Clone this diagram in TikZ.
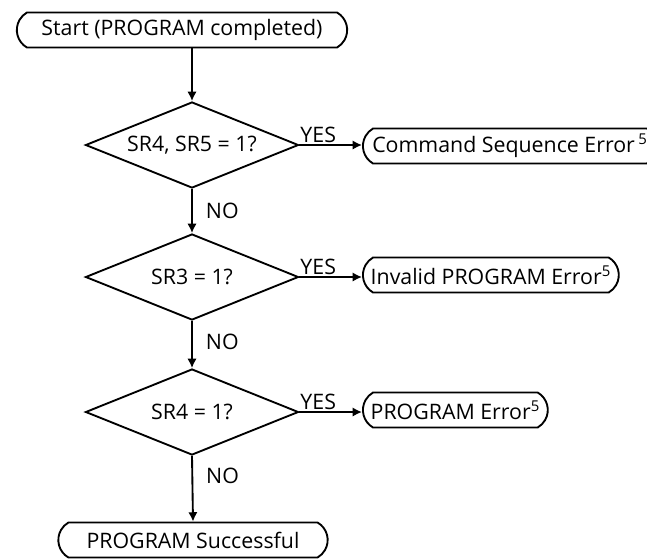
\documentclass[tikz,border=0pt]{standalone}
\usepackage{fontspec}
\setmainfont{Open Sans}
\usetikzlibrary{shapes.geometric,shapes.misc,arrows.meta}

\tikzset{every picture/.style={line width=1.4pt}}
\tikzset{
  term/.style={draw, rounded rectangle, rounded rectangle arc length=120, minimum height=26.25pt, inner xsep=4pt, font=\fontsize{16}{19}\selectfont},
  decision/.style={draw, diamond, aspect=2.48, inner sep=0pt, minimum width=159.75pt, minimum height=64.5pt, font=\fontsize{16}{19}\selectfont},
  flow/.style={-{Latex[length=7pt,width=7pt]}},
  answer/.style={inner sep=0.75pt, font=\fontsize{16}{19}\selectfont}
}

\begin{document}
\begin{tikzpicture}[x=0.75pt,y=0.75pt,yscale=-1,xscale=1]
    \useasboundingbox (0,0) rectangle (647,558);

    %Terminal: start
    \node[term, minimum width=255.75pt] (start) at (182,30) {Start (PROGRAM completed)};
    %Shape: Diamond
    \node[decision] (sr45) at (192,145) {SR4, SR5 = 1?};
    %Shape: Diamond
    \node[decision] (sr3) at (192,277) {SR3 = 1?};
    %Shape: Diamond
    \node[decision] (sr4) at (192,412) {SR4 = 1?};
    %Terminal: errors
    \node[term, anchor=west] (cmdseq) at (362,146) {Command Sequence Error\,\textsuperscript{5}};
    \node[term, anchor=west] (inverr) at (362,275) {Invalid PROGRAM Error\textsuperscript{5}};
    \node[term, anchor=west] (progerr) at (362,410) {PROGRAM Error\textsuperscript{5}};
    %Terminal: end
    \node[term, minimum width=210pt] (success) at (193,540) {PROGRAM Successful};

    %Straight Lines
    \draw[flow] (start.south -| sr45.north) -- (sr45.north);
    \draw[flow] (sr45.south) -- node[answer, right=9pt] {NO} (sr3.north);
    \draw[flow] (sr3.south) -- node[answer, right=9pt, pos=0.45] {NO} (sr4.north);
    \draw[flow] (sr4.south) -- node[answer, right=9pt, pos=0.3] {NO} (success.north);
    %Straight Lines
    \draw[flow] (sr45.east) -- node[answer, above, pos=0.3] {YES} (sr45.east -| cmdseq.west);
    \draw[flow] (sr3.east) -- node[answer, above, pos=0.3] {YES} (sr3.east -| inverr.west);
    \draw[flow] (sr4.east) -- node[answer, above, pos=0.3] {YES} (sr4.east -| progerr.west);

\end{tikzpicture}
\end{document}
